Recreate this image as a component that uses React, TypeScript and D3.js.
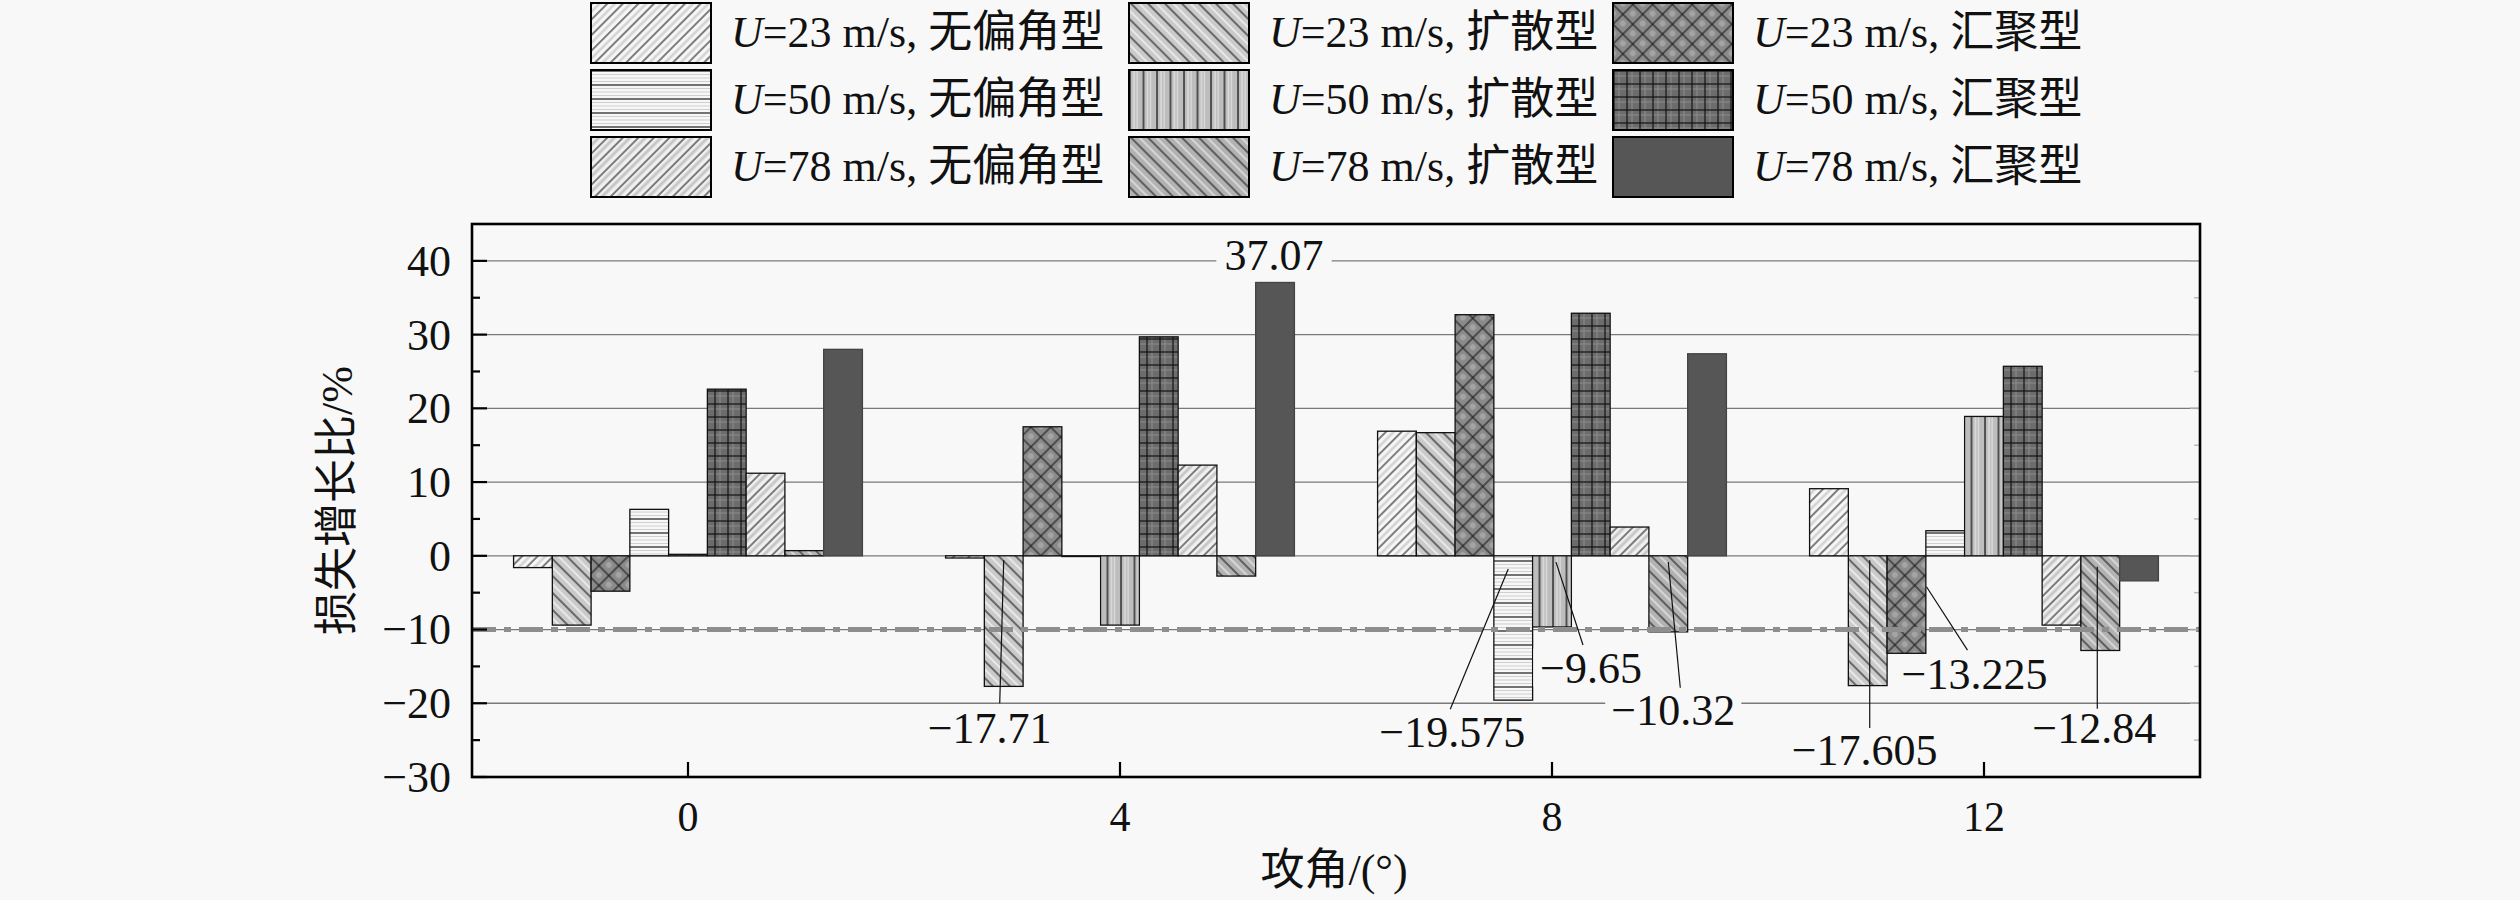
import * as d3 from "d3";

const W = 2520;
const H = 900;
const PLOT = { left: 472, right: 2200, top: 224, bottom: 777 };
const BG = "#f8f8f8";
const FONT = "'Liberation Serif', 'Times New Roman', 'Noto Sans CJK SC', serif";

// angles of attack (x categories)
const ANGLES = [0, 4, 8, 12];
const SPEEDS = [23, 50, 78];
const TYPES = ["无偏角型", "扩散型", "汇聚型"];

// loss growth ratio, %, one value per angle
const U23_NONE = [-1.6, -0.3, 16.9, 9.1];
const U23_DIV = [-9.4, -17.71, 16.7, -17.605];
const U23_CONV = [-4.8, 17.5, 32.7, -13.225];
const U50_NONE = [6.3, -0.1, -19.575, 3.4];
const U50_DIV = [0.2, -9.4, -9.65, 18.9];
const U50_CONV = [22.6, 29.7, 32.9, 25.7];
const U78_NONE = [11.2, 12.3, 3.9, -9.4];
const U78_DIV = [0.7, -2.75, -10.32, -12.84];
const U78_CONV = [28.0, 37.07, 27.4, -3.4];

const SERIES = [U23_NONE, U23_DIV, U23_CONV, U50_NONE, U50_DIV, U50_CONV, U78_NONE, U78_DIV, U78_CONV];

const Y_TICKS = [-30, -20, -10, 0, 10, 20, 30, 40];
const REF_LEVEL = -10;

// value callouts: series index, angle index, text, label offset (px) / baseline (value), leader ends
const CALLOUTS = [
  { s: 1, a: 1, text: "−17.71", lx: -14, ly: -25.4, leader: [0, -0.6, -4, -20.0] },
  { s: 8, a: 1, text: "37.07", lx: -1, ly: 38.8, leader: null },
  { s: 3, a: 2, text: "−19.575", lx: -61, ly: -25.9, leader: [-5, -1.8, -63, -20.8] },
  { s: 4, a: 2, text: "−9.65", lx: 39, ly: -17.25, leader: [4, -0.85, 31, -12.1] },
  { s: 7, a: 2, text: "−10.32", lx: 5, ly: -22.95, leader: [0, -0.85, 12, -17.9] },
  { s: 1, a: 3, text: "−17.605", lx: -3, ly: -28.4, leader: [2, -0.6, 2, -23.35] },
  { s: 2, a: 3, text: "−13.225", lx: 68, ly: -18.05, leader: [20, -4.2, 61, -12.8] },
  { s: 7, a: 3, text: "−12.84", lx: -6, ly: -25.4, leader: [-3, -1.5, -3, -21.05] },
];

// bars of one angle span this many x units
const GROUP_SPAN = 3.23;

const LEGEND_COLS = [591, 1129, 1613];
const LEGEND_ROWS = [3, 70, 137];

function Patterns() {
  return (
    <defs>
      {/* U=23 无偏角型: white, / hatch */}
      <pattern id="p0" patternUnits="userSpaceOnUse" width={11} height={11} patternTransform="rotate(45)">
        <rect width={11} height={11} fill="#f6f6f6" />
        <line x1={6.5} y1={0} x2={6.5} y2={11} stroke="#d2d2d2" strokeWidth={2.5} />
        <line x1={1} y1={0} x2={1} y2={11} stroke="#1a1a1a" strokeWidth={1.1} />
      </pattern>
      {/* U=23 扩散型: light gray, \ hatch */}
      <pattern id="p1" patternUnits="userSpaceOnUse" width={12} height={12} patternTransform="rotate(-45)">
        <rect width={12} height={12} fill="#cacaca" />
        <line x1={7} y1={0} x2={7} y2={12} stroke="#e8e8e8" strokeWidth={2} />
        <line x1={1} y1={0} x2={1} y2={12} stroke="#1a1a1a" strokeWidth={1.1} />
      </pattern>
      {/* U=23 汇聚型: dark gray, crosshatch */}
      <pattern id="p2" patternUnits="userSpaceOnUse" width={14} height={14} patternTransform="rotate(45)">
        <rect width={14} height={14} fill="#8a8a8a" />
        <circle cx={7.5} cy={7.5} r={3} fill="#a4a4a4" />
        <line x1={1} y1={0} x2={1} y2={14} stroke="#1a1a1a" strokeWidth={1.1} />
        <line x1={0} y1={1} x2={14} y2={1} stroke="#1a1a1a" strokeWidth={1.1} />
      </pattern>
      {/* U=50 无偏角型: white, horizontal lines */}
      <pattern id="p3" patternUnits="userSpaceOnUse" width={14} height={14}>
        <rect width={14} height={14} fill="#f7f7f7" />
        <line x1={0} y1={4.5} x2={14} y2={4.5} stroke="#cfcfcf" strokeWidth={1} />
        <line x1={0} y1={8} x2={14} y2={8} stroke="#cfcfcf" strokeWidth={1} />
        <line x1={0} y1={11.5} x2={14} y2={11.5} stroke="#cfcfcf" strokeWidth={1} />
        <line x1={0} y1={1} x2={14} y2={1} stroke="#1a1a1a" strokeWidth={1.2} />
      </pattern>
      {/* U=50 扩散型: gray, vertical lines */}
      <pattern id="p4" patternUnits="userSpaceOnUse" width={13.5} height={14}>
        <rect width={13.5} height={14} fill="#bdbdbd" />
        <line x1={5} y1={0} x2={5} y2={14} stroke="#e6e6e6" strokeWidth={1.2} />
        <line x1={8} y1={0} x2={8} y2={14} stroke="#e6e6e6" strokeWidth={1} />
        <line x1={1} y1={0} x2={1} y2={14} stroke="#1a1a1a" strokeWidth={1.3} />
      </pattern>
      {/* U=50 汇聚型: dark gray, grid */}
      <pattern id="p5" patternUnits="userSpaceOnUse" width={13} height={13}>
        <rect width={13} height={13} fill="#6c6c6c" />
        <line x1={6} y1={0} x2={6} y2={13} stroke="#8c8c8c" strokeWidth={1} />
        <line x1={0} y1={6} x2={13} y2={6} stroke="#8c8c8c" strokeWidth={1} />
        <line x1={1} y1={0} x2={1} y2={13} stroke="#111" strokeWidth={1.2} />
        <line x1={0} y1={1} x2={13} y2={1} stroke="#111" strokeWidth={1.2} />
      </pattern>
      {/* U=78 无偏角型: white, / hatch with gray texture */}
      <pattern id="p6" patternUnits="userSpaceOnUse" width={11} height={11} patternTransform="rotate(45)">
        <rect width={11} height={11} fill="#f0f0f0" />
        <line x1={6} y1={0} x2={6} y2={11} stroke="#c6c6c6" strokeWidth={3} />
        <line x1={1} y1={0} x2={1} y2={11} stroke="#1a1a1a" strokeWidth={1.1} />
      </pattern>
      {/* U=78 扩散型: mid gray, \ hatch */}
      <pattern id="p7" patternUnits="userSpaceOnUse" width={12} height={12} patternTransform="rotate(-45)">
        <rect width={12} height={12} fill="#b2b2b2" />
        <line x1={7} y1={0} x2={7} y2={12} stroke="#d6d6d6" strokeWidth={2} />
        <line x1={1} y1={0} x2={1} y2={12} stroke="#1a1a1a" strokeWidth={1.1} />
      </pattern>
    </defs>
  );
}

// solid dark gray for the last series
const FILLS = ["url(#p0)", "url(#p1)", "url(#p2)", "url(#p3)", "url(#p4)", "url(#p5)", "url(#p6)", "url(#p7)", "#565656"];

export default function App() {
  const x = d3.scaleLinear().domain([-2, 14]).range([PLOT.left, PLOT.right]);
  const y = d3.scaleLinear().domain([-30, 45]).range([PLOT.bottom, PLOT.top]);
  const half = x(GROUP_SPAN / 2) - x(0);
  const band = d3.scaleBand<number>().domain(d3.range(SERIES.length)).range([-half, half]);
  const bw = band.bandwidth();
  const fmt = d3.format("");

  const minorY = d3.range(-25, 45, 10);
  // centre of bar s in group of angle index a
  const cx = (s: number, a: number) => x(ANGLES[a]) + (band(s) ?? 0) + bw / 2;

  return (
    <svg
      width={W}
      height={H}
      viewBox={`0 0 ${W} ${H}`}
      style={{ position: "absolute", left: 0, top: 0, fontFamily: FONT }}
    >
      <Patterns />
      <rect width={W} height={H} fill={BG} />

      {/* legend */}
      {SPEEDS.map((sp, r) =>
        TYPES.map((tp, c) => {
          const i = r * 3 + c;
          return (
            <g key={`lg-${i}`} transform={`translate(${LEGEND_COLS[c]},${LEGEND_ROWS[r]})`}>
              <rect width={120} height={60} fill={FILLS[i]} stroke="#000" strokeWidth={2} />
              <text x={140} y={44} fontSize={44} fill="#111">
                <tspan fontStyle="italic">U</tspan>={sp} m/s, {tp}
              </text>
            </g>
          );
        })
      )}

      {/* grid */}
      {Y_TICKS.map((t) => (
        <line key={`g-${t}`} x1={PLOT.left} x2={PLOT.right} y1={y(t)} y2={y(t)} stroke="#7a7a7a" strokeWidth={1.3} />
      ))}

      {/* bars */}
      {ANGLES.map((a, ai) => (
        <g key={`grp-${a}`} transform={`translate(${x(a)},0)`}>
          {SERIES.map((vals, s) => {
            const v = vals[ai];
            const y0 = y(0);
            const y1 = y(v);
            return (
              <rect
                key={`b-${s}`}
                x={band(s)}
                y={Math.min(y0, y1)}
                width={bw}
                height={Math.abs(y1 - y0)}
                fill={FILLS[s]}
                stroke={s === 8 ? "#444" : "#111"}
                strokeWidth={1.3}
              />
            );
          })}
        </g>
      ))}

      {/* reference level */}
      <line
        x1={PLOT.left}
        x2={PLOT.right}
        y1={y(REF_LEVEL)}
        y2={y(REF_LEVEL)}
        stroke="#8e8e8e"
        strokeWidth={5}
        strokeDasharray="24 8 7 8"
      />

      {/* callouts */}
      {CALLOUTS.map((c, i) => {
        const bx = cx(c.s, c.a);
        const px = bx + c.lx;
        const base = y(c.ly);
        const fs = 44;
        const tw = c.text.length * fs * 0.47;
        return (
          <g key={`co-${i}`}>
            {c.leader && (
              <line
                x1={bx + c.leader[0]}
                y1={y(c.leader[1])}
                x2={bx + c.leader[2]}
                y2={y(c.leader[3])}
                stroke="#111"
                strokeWidth={1.2}
              />
            )}
            <rect x={px - tw / 2 - 6} y={base - fs * 0.78} width={tw + 12} height={fs * 0.86} fill={BG} />
            <text x={px} y={base} fontSize={fs} textAnchor="middle" fill="#111">
              {c.text}
            </text>
          </g>
        );
      })}

      {/* axes frame and ticks */}
      {Y_TICKS.map((t) => (
        <g key={`yt-${t}`}>
          <line x1={PLOT.left} x2={PLOT.left + 15} y1={y(t)} y2={y(t)} stroke="#000" strokeWidth={2.2} />
          <line x1={PLOT.right} x2={PLOT.right - 10} y1={y(t)} y2={y(t)} stroke="#aaa" strokeWidth={1.5} />
          <text x={PLOT.left - 21} y={y(t)} dy="0.34em" fontSize={44} textAnchor="end" fill="#111">
            {fmt(t)}
          </text>
        </g>
      ))}
      {minorY.map((t) => (
        <g key={`ym-${t}`}>
          <line x1={PLOT.left} x2={PLOT.left + 8} y1={y(t)} y2={y(t)} stroke="#000" strokeWidth={2.2} />
          <line x1={PLOT.right} x2={PLOT.right - 6} y1={y(t)} y2={y(t)} stroke="#bbb" strokeWidth={1.5} />
        </g>
      ))}
      {ANGLES.map((a) => (
        <g key={`xt-${a}`}>
          <line x1={x(a)} x2={x(a)} y1={PLOT.bottom} y2={PLOT.bottom - 15} stroke="#000" strokeWidth={2.2} />
          <text x={x(a)} y={831} fontSize={42} textAnchor="middle" fill="#111">
            {fmt(a)}
          </text>
        </g>
      ))}
      <rect
        x={PLOT.left}
        y={PLOT.top}
        width={PLOT.right - PLOT.left}
        height={PLOT.bottom - PLOT.top}
        fill="none"
        stroke="#000"
        strokeWidth={2.6}
      />

      {/* axis titles */}
      <text x={1334} y={885} fontSize={44} textAnchor="middle" fill="#111">
        攻角/(°)
      </text>
      <text
        transform={`translate(352,${(PLOT.top + PLOT.bottom) / 2}) rotate(-90)`}
        fontSize={44}
        textAnchor="middle"
        fill="#111"
      >
        损失增长比/%
      </text>
    </svg>
  );
}
